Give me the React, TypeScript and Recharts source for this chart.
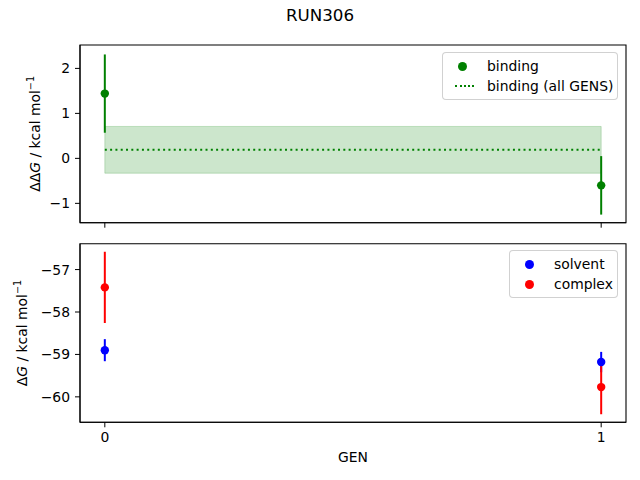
import React from 'react'
import {
  ComposedChart,
  Scatter,
  ErrorBar,
  XAxis,
  YAxis,
  ReferenceArea,
  ReferenceLine,
  Legend,
} from 'recharts'

// valeurs
const gens = [0, 1]
const binding = [1.44, -0.6]
const bindingErr = [0.87, 0.65]
const bindingAll = 0.19
const bindingAllErr = 0.52
const solvent = [-58.9, -59.18]
const solventErr = [0.26, 0.24]
const complexDG = [-57.42, -59.77]
const complexErr = [0.84, 0.64]

const xTicks = [0, 1]
const topTicks = [-1, 0, 1, 2]
const bottomTicks = [-60, -59, -58, -57]
const xDomain = [-0.05, 1.05]
const topDomain = [-1.43, 2.52]
const bottomDomain = [-60.6, -56.39]

const FONT = 'DejaVu Sans, sans-serif'
const GREEN = '#008000'
const BLUE = '#0000ff'
const RED = '#ff0000'

const bindingData = gens.map((g, i) => ({ x: g, y: binding[i], err: bindingErr[i] }))
const solventData = gens.map((g, i) => ({ x: g, y: solvent[i], err: solventErr[i] }))
const complexData = gens.map((g, i) => ({ x: g, y: complexDG[i], err: complexErr[i] }))

const fmt = (v: number) => String(v).replace('-', '\u2212')
const tickStyle = { fontSize: 13.9, fill: '#000', fontFamily: FONT }

const dot = (color: string) => (p: any) => <circle cx={p.cx} cy={p.cy} r={4.2} fill={color} />

const YLabel = ({ x, text }: { x: number; text: string }) => (props: any) => {
  const vb = props.viewBox
  const cy = vb.y + vb.height / 2
  return (
    <text
      transform={`translate(${x},${cy}) rotate(-90)`}
      textAnchor="middle"
      fontSize={13.9}
      fontFamily={FONT}
      fill="#000"
    >
      {text}
      <tspan fontStyle="italic">G</tspan>
      <tspan> / kcal mol</tspan>
      <tspan fontSize={9.7} dy={-6}>{'\u22121'}</tspan>
    </text>
  )
}

const legendBox: React.CSSProperties = {
  background: 'rgba(255,255,255,0.8)',
  border: '1px solid rgba(204,204,204,0.9)',
  borderRadius: 4,
  padding: '3px 0',
  fontFamily: FONT,
  fontSize: 13.9,
  color: '#000',
  boxSizing: 'border-box',
}

const rowStyle: React.CSSProperties = { position: 'relative', height: 20, lineHeight: '20px', paddingLeft: 44 }

const Dot = ({ color }: { color: string }) => (
  <span
    style={{
      position: 'absolute',
      left: 14.5,
      top: 5.5,
      width: 9,
      height: 9,
      borderRadius: '50%',
      background: color,
    }}
  />
)

const TopLegend = () => (
  <div style={legendBox}>
    <div style={rowStyle}>
      <Dot color={GREEN} />
      binding
    </div>
    <div style={rowStyle}>
      <span
        style={{
          position: 'absolute',
          left: 12,
          top: 9,
          width: 19,
          borderTop: `2px dotted ${GREEN}`,
        }}
      />
      binding (all GENS)
    </div>
  </div>
)

const BottomLegend = () => (
  <div style={legendBox}>
    <div style={rowStyle}>
      <Dot color={BLUE} />
      solvent
    </div>
    <div style={rowStyle}>
      <Dot color={RED} />
      complex
    </div>
  </div>
)

// cadre complet autour de la zone de tracé (les quatre côtés, comme matplotlib)
const frame = (yDomain: number[]) => (
  <ReferenceArea
    x1={xDomain[0]}
    x2={xDomain[1]}
    y1={yDomain[0]}
    y2={yDomain[1]}
    fill="none"
    fillOpacity={0}
    stroke="#000"
    strokeWidth={1.1}
    ifOverflow="visible"
  />
)

export default function App() {
  return (
    <div style={{ position: 'absolute', left: 0, top: 0, width: 640, height: 480, background: '#fff' }}>
      <div
        style={{
          position: 'absolute',
          top: 5,
          left: 0,
          width: 640,
          textAlign: 'center',
          fontFamily: FONT,
          fontSize: 16.7,
          lineHeight: '20px',
        }}
      >
        RUN306
      </div>

      {/* haut : ΔΔG */}
      <div style={{ position: 'absolute', top: 0, left: 0 }}>
        <ComposedChart width={640} height={240} margin={{ top: 45, right: 14, bottom: 0, left: 0 }}>
          <XAxis
            type="number"
            dataKey="x"
            domain={xDomain}
            ticks={xTicks}
            tickFormatter={() => ''}
            height={17.3}
            tickSize={5}
            stroke="#000"
            allowDataOverflow
          />
          <YAxis
            type="number"
            domain={topDomain}
            ticks={topTicks}
            tickFormatter={fmt}
            tick={tickStyle}
            tickSize={5}
            tickMargin={5}
            width={80}
            stroke="#000"
            allowDataOverflow
            label={YLabel({ x: 40, text: '\u0394\u0394' })}
          />
          <ReferenceArea
            x1={gens[0]}
            x2={gens[gens.length - 1]}
            y1={bindingAll - bindingAllErr}
            y2={bindingAll + bindingAllErr}
            fill={GREEN}
            fillOpacity={0.2}
            stroke={GREEN}
            strokeOpacity={0.2}
          />
          <ReferenceLine
            segment={[
              { x: gens[0], y: bindingAll },
              { x: gens[gens.length - 1], y: bindingAll },
            ]}
            stroke={GREEN}
            strokeWidth={2}
            strokeDasharray="2 3.3"
          />
          <Scatter data={bindingData} dataKey="y" shape={dot(GREEN)} isAnimationActive={false}>
            <ErrorBar dataKey="err" direction="y" width={0} stroke={GREEN} strokeWidth={2} isAnimationActive={false} />
          </Scatter>
          {frame(topDomain)}
          <Legend
            layout="vertical"
            align="center"
            verticalAlign="middle"
            content={() => <TopLegend />}
            wrapperStyle={{ top: 52, right: 22, left: 'auto', width: 176, height: 46 }}
          />
        </ComposedChart>
      </div>

      {/* bas : ΔG */}
      <div style={{ position: 'absolute', top: 240, left: 0 }}>
        <ComposedChart width={640} height={240} margin={{ top: 3.7, right: 14, bottom: 0, left: 0 }}>
          <XAxis
            type="number"
            dataKey="x"
            domain={xDomain}
            ticks={xTicks}
            tick={tickStyle}
            height={57.7}
            tickSize={5}
            tickMargin={5}
            stroke="#000"
            allowDataOverflow
            label={{ value: 'GEN', position: 'insideBottom', offset: 17.7, fontSize: 13.9, fill: '#000', fontFamily: FONT }}
          />
          <YAxis
            type="number"
            domain={bottomDomain}
            ticks={bottomTicks}
            tickFormatter={fmt}
            tick={tickStyle}
            tickSize={5}
            tickMargin={5}
            width={80}
            stroke="#000"
            allowDataOverflow
            label={YLabel({ x: 27, text: '\u0394' })}
          />
          <Scatter data={solventData} dataKey="y" shape={dot(BLUE)} isAnimationActive={false}>
            <ErrorBar dataKey="err" direction="y" width={0} stroke={BLUE} strokeWidth={2} isAnimationActive={false} />
          </Scatter>
          <Scatter data={complexData} dataKey="y" shape={dot(RED)} isAnimationActive={false}>
            <ErrorBar dataKey="err" direction="y" width={0} stroke={RED} strokeWidth={2} isAnimationActive={false} />
          </Scatter>
          {frame(bottomDomain)}
          <Legend
            layout="vertical"
            align="center"
            verticalAlign="middle"
            content={() => <BottomLegend />}
            wrapperStyle={{ top: 10, right: 22, left: 'auto', width: 109, height: 46 }}
          />
        </ComposedChart>
      </div>
    </div>
  )
}
